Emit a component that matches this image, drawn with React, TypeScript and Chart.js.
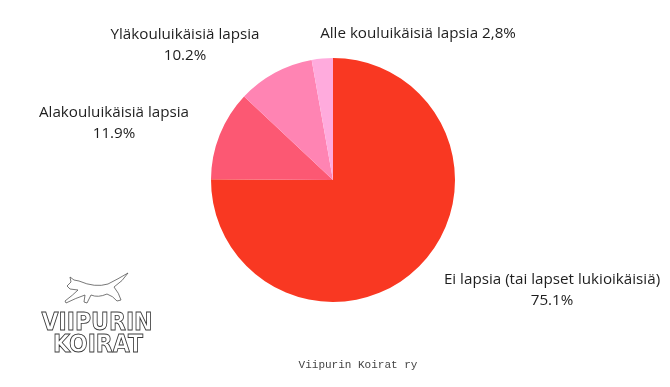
import React, { useEffect, useRef } from "react";
import { Chart, registerables } from "chart.js";

Chart.register(...registerables);

const categories = [
  "Ei lapsia (tai lapset lukioikäisiä)",
  "Alakouluikäisiä lapsia",
  "Yläkouluikäisiä lapsia",
  "Alle kouluikäisiä lapsia",
];
const values = [75.1, 11.9, 10.2, 2.8];
const valueLabels = ["75.1%", "11.9%", "10.2%", "2,8%"];
const colors = ["#F93822", "#FC5873", "#FF84B3", "#FFABDD"];

const FONT = "'Open Sans', 'Noto Sans', sans-serif";

// label block centres, relative to chart centre (text layout only)
const labelOffsets = [
  { dx: 219, dy: 110, single: false },
  { dx: -219, dy: -57, single: false },
  { dx: -148, dy: -135, single: false },
  { dx: 85, dy: -146, single: true },
];

const labelPlugin = {
  id: "pieLabels",
  afterDraw(chart: any) {
    const ctx = chart.ctx;
    const meta = chart.getDatasetMeta(0);
    ctx.save();
    ctx.fillStyle = "#1e1e1e";
    ctx.font = `15.2px ${FONT}`;
    ctx.textAlign = "center";
    ctx.textBaseline = "middle";
    meta.data.forEach((arc: any, i: number) => {
      const { x, y } = arc.getProps(["x", "y"], true);
      const o = labelOffsets[i];
      const cx = x + o.dx;
      const cy = y + o.dy;
      if (o.single) {
        ctx.fillText(`${categories[i]} ${valueLabels[i]}`, cx, cy);
      } else {
        ctx.fillText(categories[i], cx, cy - 10);
        ctx.fillText(valueLabels[i], cx, cy + 11);
      }
    });

    // footer
    ctx.fillStyle = "#444";
    ctx.font = "11px 'Liberation Mono', 'DejaVu Sans Mono', monospace";
    ctx.fillText("Viipurin Koirat ry", 358, 365);

    // logo text (outlined)
    const drawOutline = (t: string, cx: number, cy: number, w: number, h: number) => {
      ctx.save();
      ctx.font = `bold 40px 'DejaVu Sans', sans-serif`;
      const mw = ctx.measureText(t).width;
      ctx.translate(cx, cy);
      ctx.scale(w / mw, h / 29);
      ctx.strokeStyle = "#3a3a3a";
      ctx.lineWidth = 1.5;
      ctx.textAlign = "center";
      ctx.textBaseline = "middle";
      ctx.strokeText(t, 0, 0);
      ctx.restore();
    };
    drawOutline("VIIPURIN", 97, 323.5, 111, 18);
    drawOutline("KOIRAT", 98, 346, 90, 18);

    // wolf sketch
    ctx.strokeStyle = "#555";
    ctx.lineWidth = 0.8;
    ctx.beginPath();
    // head
    ctx.moveTo(67, 286);
    ctx.lineTo(71, 282);
    ctx.lineTo(70, 277);
    ctx.lineTo(74, 280);
    ctx.lineTo(79, 281);
    // back
    ctx.quadraticCurveTo(95, 288, 108, 284);
    // tail
    ctx.quadraticCurveTo(118, 279, 128, 273);
    ctx.quadraticCurveTo(123, 281, 114, 287);
    // hind
    ctx.quadraticCurveTo(119, 293, 121, 300);
    ctx.lineTo(117, 301);
    ctx.quadraticCurveTo(113, 296, 107, 294);
    ctx.quadraticCurveTo(98, 298, 91, 295);
    // front leg
    ctx.lineTo(87, 303);
    ctx.lineTo(84, 302);
    ctx.lineTo(85, 295);
    ctx.quadraticCurveTo(76, 298, 66, 303);
    ctx.lineTo(65, 301);
    ctx.quadraticCurveTo(73, 295, 78, 290);
    ctx.lineTo(70, 289);
    ctx.closePath();
    ctx.stroke();
    ctx.restore();
  },
};

export default function App() {
  const ref = useRef<HTMLCanvasElement>(null);
  useEffect(() => {
    if (!ref.current) return;
    const chart = new Chart(ref.current, {
      type: "pie",
      data: {
        labels: categories,
        datasets: [
          {
            data: values,
            backgroundColor: colors,
            borderWidth: 0,
          },
        ],
      },
      options: {
        animation: false,
        responsive: false,
        layout: { padding: { top: 58, bottom: 85, left: 0, right: 4 } },
        plugins: {
          legend: { display: false },
          tooltip: { enabled: false },
        },
      },
      plugins: [labelPlugin],
    });
    return () => chart.destroy();
  }, []);
  return (
    <div style={{ position: "fixed", left: 0, top: 0, width: 670, height: 387, background: "#fff" }}>
      <canvas ref={ref} width={670} height={387} style={{ width: 670, height: 387 }} />
    </div>
  );
}
